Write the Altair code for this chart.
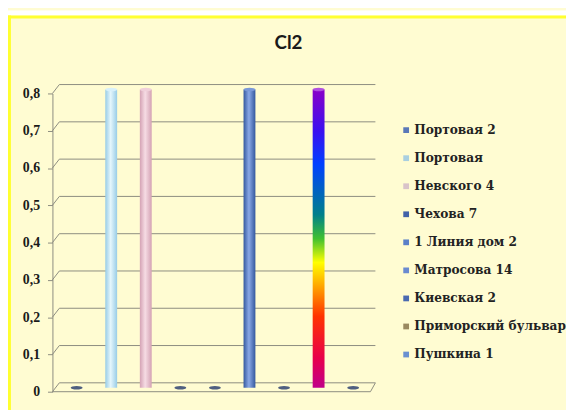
import altair as alt
import pandas as pd

categories = ["Портовая 2", "Портовая", "Невского 4", "Чехова 7", "1 Линия дом 2",
              "Матросова 14", "Киевская 2", "Приморский бульвар", "Пушкина 1"]
values = [0, 0.8, 0.8, 0, 0, 0.8, 0, 0.8, 0]
legend_colors = ["#5a78b8", "#a9cfe0", "#d9c3c9", "#4262a8", "#5b80c8",
                 "#6a8ad0", "#4a6ab0", "#9a8a60", "#6a90d0"]
y_ticks = [0, 0.1, 0.2, 0.3, 0.4, 0.5, 0.6, 0.7, 0.8]
title_text = "Cl2"

df = pd.DataFrame({"cat": categories, "value": values})
ticks_df = pd.DataFrame({"value": y_ticks})

W, H = 315, 302
PAD = {"left": 52, "top": 84, "right": 565 - 52 - W, "bottom": 402 - 84 - H}
DEPTH = 9      # 3-D back-wall offset (px)
SIDE = 7
GRID = "#8c8c80"

xenc = alt.X("cat:N", sort=categories,
             scale=alt.Scale(domain=categories, paddingInner=0, paddingOuter=0),
             axis=None)
yscale = alt.Scale(domain=[0, 0.8])
yaxis = alt.Axis(values=y_ticks, title=None, offset=SIDE, grid=False,
                 tickSize=5, tickColor=GRID, domainColor=GRID,
                 labelPadding=8, labelFont="Liberation Serif", labelFontWeight="bold",
                 labelFontSize=14, labelColor="#1a1a1a",
                 labelExpr="replace(format(datum.value, '.1~f'), '.', ',')")
yenc = alt.Y("value:Q", scale=yscale, axis=yaxis)

one = pd.DataFrame({"a": [0]})
# decorative frame
white_strip = alt.Chart(one).mark_rule(color="white", strokeWidth=5).encode(
    x=alt.value(-52), x2=alt.value(514), y=alt.value(-81.5))
top_border = alt.Chart(one).mark_rule(color="#FFFF30", strokeWidth=3).encode(
    x=alt.value(-52), x2=alt.value(514), y=alt.value(-77.5))
left_border = alt.Chart(one).mark_rule(color="#FFFF30", strokeWidth=3).encode(
    x=alt.value(-50.5), y=alt.value(-79), y2=alt.value(330))

title = alt.Chart(one).mark_text(text=title_text, font="Lato", fontWeight="bold", fontSize=19,
                                 color="#1a1a1a", align="center", baseline="middle").encode(
    x=alt.value(232), y=alt.value(-51))

# back-wall gridlines and slanted connectors
grid = alt.Chart(ticks_df).mark_rule(color=GRID, strokeWidth=1, yOffset=-DEPTH).encode(
    x=alt.value(0), x2=alt.value(W + 5), y=yenc)
connectors = alt.Chart(ticks_df).mark_rule(color=GRID, strokeWidth=1, y2Offset=-DEPTH).encode(
    x=alt.value(-SIDE), x2=alt.value(0), y=yenc, y2="value:Q")
floor_front = alt.Chart(one).mark_rule(color=GRID, strokeWidth=1).encode(
    x=alt.value(-SIDE), x2=alt.value(W), y=alt.value(H))
floor_side = alt.Chart(one).mark_rule(color=GRID, strokeWidth=1).encode(
    x=alt.value(W), x2=alt.value(W + 5), y=alt.value(H), y2=alt.value(H - DEPTH))


def hgrad(edge, mid):
    return alt.LinearGradient(gradient="linear", x1=0, x2=1, y1=0, y2=0,
                              stops=[alt.GradientStop(color=edge, offset=0),
                                     alt.GradientStop(color=mid, offset=0.45),
                                     alt.GradientStop(color=edge, offset=1)])


rainbow = alt.LinearGradient(gradient="linear", x1=0, x2=0, y1=0, y2=1, stops=[
    alt.GradientStop(color="#8a00c8", offset=0),
    alt.GradientStop(color="#3a10f0", offset=0.14),
    alt.GradientStop(color="#0040ff", offset=0.25),
    alt.GradientStop(color="#00808a", offset=0.42),
    alt.GradientStop(color="#40c030", offset=0.5),
    alt.GradientStop(color="#ffff00", offset=0.58),
    alt.GradientStop(color="#ff9900", offset=0.67),
    alt.GradientStop(color="#ff3300", offset=0.76),
    alt.GradientStop(color="#e8004a", offset=0.9),
    alt.GradientStop(color="#c0008a", offset=1),
])

fills = {
    "Портовая": (hgrad("#98cce6", "#e4f6fc"), "#d8f0fa"),
    "Невского 4": (hgrad("#d4a2b4", "#f6dce4"), "#f0d0da"),
    "Матросова 14": (hgrad("#34589e", "#8aa8e6"), "#7a98d8"),
    "Приморский бульвар": (rainbow, "#b050e0"),
}

ellipse = "M -1 0 A 1 0.3 0 1 0 1 0 A 1 0.3 0 1 0 -1 0 Z"

layers = [white_strip, top_border, left_border, title, grid, connectors, floor_front, floor_side]

legend_layer = alt.Chart(df).mark_square(opacity=0, size=30).encode(
    x=xenc, y=yenc,
    color=alt.Color("cat:N", sort=categories,
                    scale=alt.Scale(domain=categories, range=legend_colors),
                    legend=alt.Legend(title=None, orient="none", legendX=345, legendY=31,
                                      symbolType="square", symbolSize=34, symbolOpacity=1,
                                      symbolStrokeWidth=0, labelLimit=400,
                                      labelFont="DejaVu Serif", labelFontWeight="bold",
                                      labelFontSize=12.3, labelColor="#222222",
                                      rowPadding=15.4, labelOffset=2)))
layers.append(legend_layer)

zero_caps = alt.Chart(df).transform_filter(alt.datum.value == 0).mark_point(
    shape=ellipse, filled=True, size=144, color="#4f5f80", opacity=1, yOffset=-4).encode(
    x=xenc, y=yenc)
layers.append(zero_caps)

for cat, (fill, cap) in fills.items():
    sub = alt.Chart(df).transform_filter(alt.datum.cat == cat)
    layers.append(sub.mark_bar(size=12, color=fill, yOffset=-4).encode(x=xenc, y=yenc))
    layers.append(sub.mark_point(shape=ellipse, filled=True, size=144, color=cap, opacity=1,
                                 yOffset=-4).encode(x=xenc, y=yenc))

chart = alt.layer(*layers).properties(
    width=W, height=H,
    autosize=alt.AutoSizeParams(type="none"),
    padding=PAD,
    background="#FFFCD2",
).configure_view(stroke=None)

chart.save("out.html", embed_options={"renderer": "svg", "actions": False})
